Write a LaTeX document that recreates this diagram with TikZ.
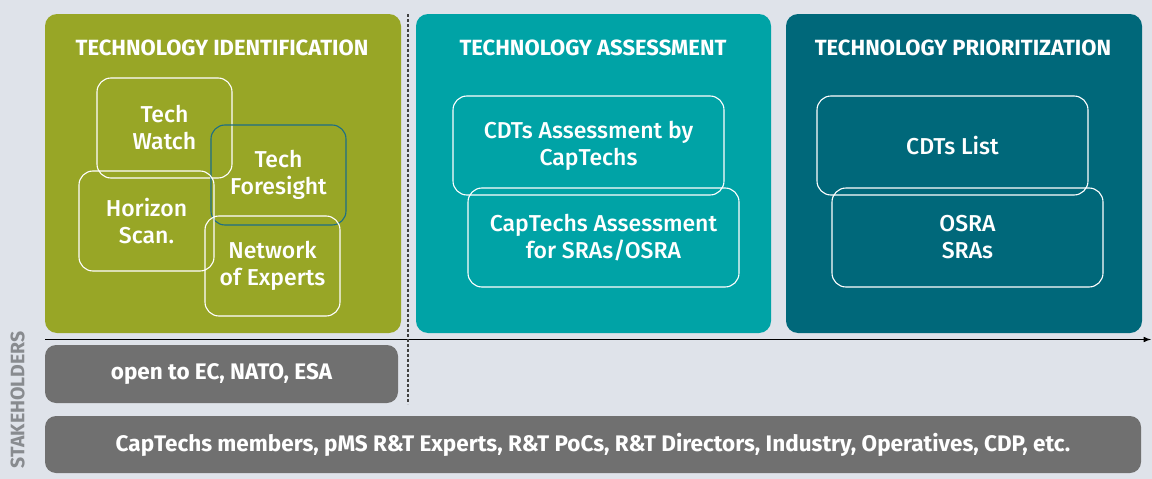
\documentclass[tikz,border=0pt]{standalone}
\usepackage{fontspec}
\usepackage{tikz}
\setmainfont{Fira Sans}
\newfontfamily\headfont{Fira Sans}[UprightFont=* Bold]
\newfontfamily\boxfont{Fira Sans}[UprightFont=* Medium]

\definecolor{bgcol}{HTML}{DFE3EA}
\definecolor{idgreen}{HTML}{98A626}
\definecolor{asteal}{HTML}{00A3A6}
\definecolor{prteal}{HTML}{00687A}
\definecolor{stakegray}{HTML}{707070}
\definecolor{labelgray}{HTML}{888B8F}
\definecolor{foreline}{HTML}{1C6E86}

\tikzset{
	panel/.style={rounded corners=12pt, minimum width=356pt, minimum height=319pt, inner sep=0pt},
	paneltitle/.style={text=white, font=\headfont\fontsize{22}{24}\selectfont},
	smallbox/.style={draw=white, line width=1.1pt, rounded corners=14pt, minimum width=135pt, minimum height=100pt, inner sep=0pt, align=center, text=white, font=\boxfont\fontsize{23}{27}\selectfont},
	widebox/.style={smallbox, minimum width=271pt, minimum height=99pt},
	graybox/.style={fill=stakegray, rounded corners=11pt, inner sep=0pt, text=white, font=\headfont\fontsize{22.5}{24}\selectfont}
}

\begin{document}
\begin{tikzpicture}[x=1pt,y=-1pt]
	\useasboundingbox (0,0) rectangle (1152,479);
	\fill [bgcol] (0,0) rectangle (1152,479);
	% the three phases
	\node [panel, fill=idgreen] (idpanel) at (223,173.5) {};
	\node [panel, fill=asteal, minimum width=355pt] (aspanel) at (593.5,173.5) {};
	\node [panel, fill=prteal] (prpanel) at (964,173.5) {};
	\node [paneltitle] (idtitle) at (222,48) {TECHNOLOGY IDENTIFICATION};
	\node [paneltitle] (astitle) at (593,48) {TECHNOLOGY ASSESSMENT};
	\node [paneltitle] (prtitle) at (963,48) {TECHNOLOGY PRIORITIZATION};
	% identification
	\node [smallbox] (watch) at (164.5,128) {Tech\\Watch};
	\node [smallbox, draw=foreline] (foresight) at (278.5,175) {Tech\\Foresight};
	\node [smallbox] (horizon) at (146.5,221) {Horizon\\Scan.};
	\node [smallbox] (network) at (272.5,266) {Network\\of Experts};
	% assessment
	\node [widebox] (cdtass) at (588.5,145.5) {CDTs Assessment by\\CapTechs};
	\node [widebox] (capass) at (603.5,237.5) {CapTechs Assessment\\for SRAs/OSRA};
	% prioritization
	\node [widebox] (cdtlist) at (952.5,145.5) {CDTs List};
	\node [widebox] (osra) at (967.5,237.5) {OSRA\\SRAs};
	% stakeholders
	\node [graybox, minimum width=353pt, minimum height=58pt] (openbox) at (221.5,374) {open to EC, NATO, ESA};
	\node [graybox, minimum width=1096pt, minimum height=57pt] (members) at (593,444.5) {CapTechs members, pMS R\&T Experts, R\&T PoCs, R\&T Directors, Industry, Operatives, CDP, etc.};
	\node [rotate=90, anchor=east, inner sep=0pt, text=labelgray, font=\headfont\fontsize{19.5}{22}\selectfont] (stake) at (17.5,331) {STAKEHOLDERS};
	% axes
	\coordinate (axstart) at (45,339.5);
	\coordinate (axend) at (1151,339.5);
	\coordinate (divtop) at (408,14);
	\coordinate (divbot) at (408,404);
	\draw [line width=1.5pt, -latex] (axstart) -- (axend);
	\draw [line width=1.2pt, densely dashed, black!75] (divtop) -- (divbot);
\end{tikzpicture}
\end{document}
